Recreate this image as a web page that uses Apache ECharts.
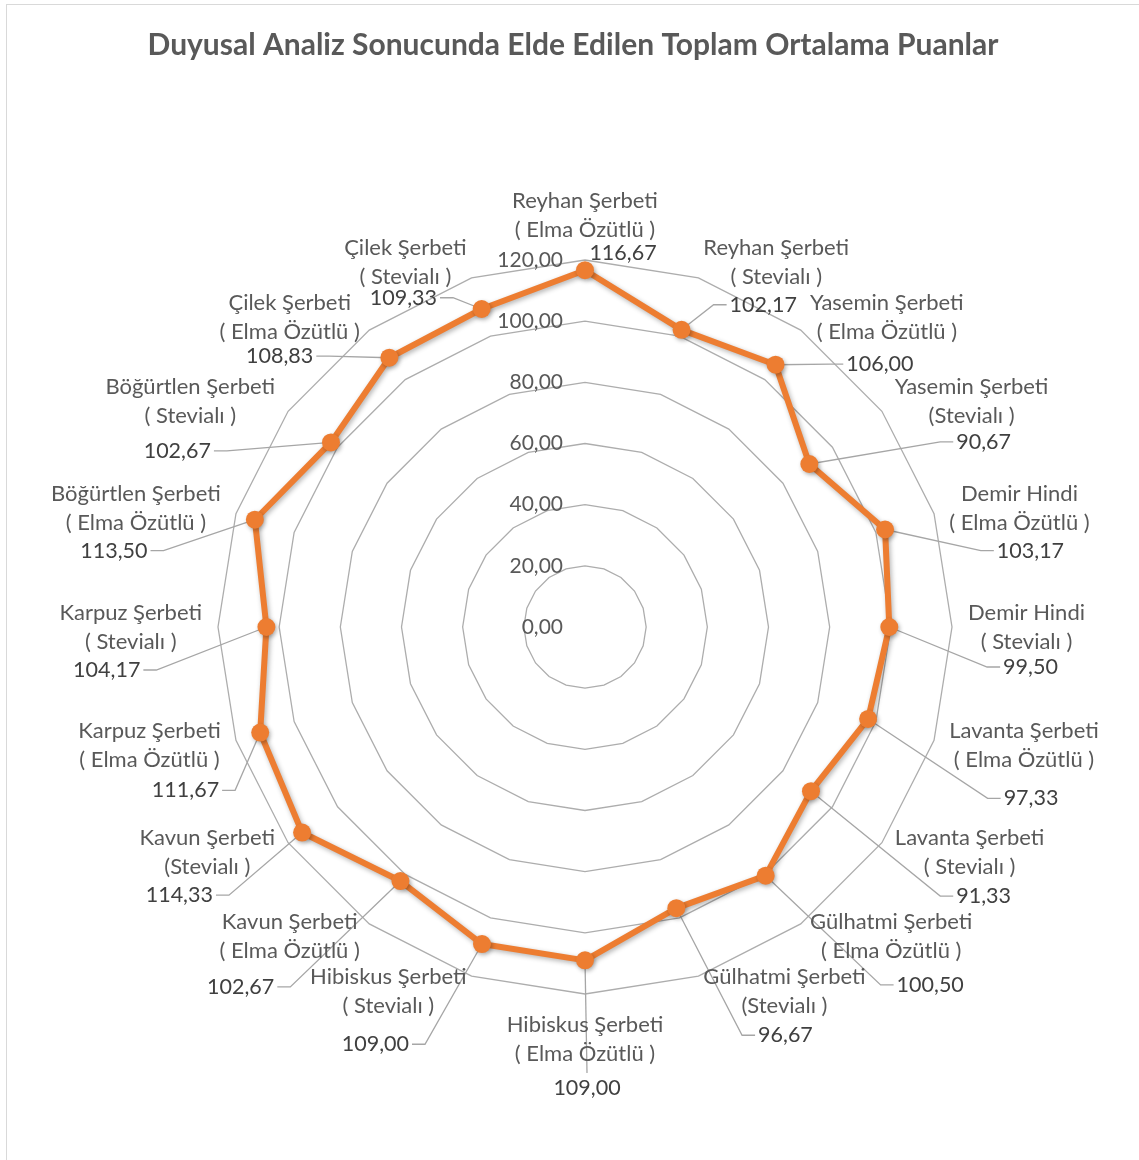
<!DOCTYPE html>
<html>
<head>
<meta charset="utf-8">
<script src="https://cdn.jsdelivr.net/npm/echarts@6/dist/echarts.min.js"></script>
<style>
html,body{margin:0;padding:0;background:#fff;overflow:hidden;width:1139px;height:1160px;}
#chart{position:absolute;left:0;top:0;width:1139px;height:1160px;}
#frame{position:absolute;left:6px;top:4px;width:1133px;height:1156px;border-left:1px solid #D9D9D9;border-top:1px solid #D9D9D9;box-sizing:border-box;pointer-events:none;}
</style>
</head>
<body>
<div id="chart"></div>
<div id="frame"></div>
<script>
// ---------- data ----------
const chartTitle = 'Duyusal Analiz Sonucunda Elde Edilen Toplam Ortalama Puanlar';
const categories = [
  'Reyhan Şerbeti\n( Elma Özütlü )',
  'Reyhan Şerbeti\n( Stevialı )',
  'Yasemin Şerbeti\n( Elma Özütlü )',
  'Yasemin Şerbeti\n(Stevialı )',
  'Demir Hindi\n( Elma Özütlü )',
  'Demir Hindi\n( Stevialı )',
  'Lavanta Şerbeti\n( Elma Özütlü )',
  'Lavanta Şerbeti\n( Stevialı )',
  'Gülhatmi Şerbeti\n( Elma Özütlü )',
  'Gülhatmi Şerbeti\n(Stevialı )',
  'Hibiskus Şerbeti\n( Elma Özütlü )',
  'Hibiskus Şerbeti\n( Stevialı )',
  'Kavun Şerbeti\n( Elma Özütlü )',
  'Kavun Şerbeti\n(Stevialı )',
  'Karpuz Şerbeti\n( Elma Özütlü )',
  'Karpuz Şerbeti\n( Stevialı )',
  'Böğürtlen Şerbeti\n( Elma Özütlü )',
  'Böğürtlen Şerbeti\n( Stevialı )',
  'Çilek Şerbeti\n( Elma Özütlü )',
  'Çilek Şerbeti\n( Stevialı )'
];
const values = [116.67, 102.17, 106.00, 90.67, 103.17, 99.50, 97.33, 91.33, 100.50, 96.67,
                109.00, 109.00, 102.67, 114.33, 111.67, 104.17, 113.50, 102.67, 108.83, 109.33];
const axisMin = 0;
const axisMax = 120;
const axisStep = 20;

// ---------- style / layout ----------
const CX = 585, CY = 627, R = 367;
const FONT_FAMILY = 'Lato, "Open Sans", sans-serif';
const NAME_SIZE = 22;
const VALUE_SIZE = 21.5;
const LINE_H = 29;
const NAME_GAP = 16;
const NAME_COLOR = '#595959';
const VALUE_COLOR = '#404040';
const GRID_COLOR = '#ADADAD';
const LEADER_COLOR = '#A6A6A6';
const SERIES_COLOR = '#ED7D31';
// nudges of value labels relative to their default spot under the category name
const valueLabelNudge = [[38,-4],[-13,0],[-7,5],[12,-2],[11,0],[4,-2],[7,11],[14,2],[39,6],[1,2],
                         [2,7],[-13,11],[-49,8],[-28,1],[36,3],[-24,1],[-22,0],[-13,7],[-10,-3],[-2,-7]];

const fmt = v => v.toFixed(2).replace('.', ',');
const mctx = document.createElement('canvas').getContext('2d');
function measure(text, font) { mctx.font = font; return mctx.measureText(text).width; }
const nameFont = NAME_SIZE + 'px ' + FONT_FAMILY;
const valueFont = VALUE_SIZE + 'px ' + FONT_FAMILY;

const N = categories.length;
// radar goes counter-clockwise, so feed it in reverse order (index 0 stays on top)
const radarOrder = [0].concat(Array.from({length: N - 1}, (_, k) => N - 1 - k));

function renderItem(params, api) {
  const v = api.value(0), i = api.value(1);
  const p = api.coord([v, i]);
  const o = api.coord([axisMax, i]);
  const c = api.coord([axisMin, i]);
  const rr = Math.hypot(o[0] - c[0], o[1] - c[1]);
  const ux = (o[0] - c[0]) / rr, uy = (o[1] - c[1]) / rr;
  const ax = o[0] + ux * NAME_GAP, ay = o[1] + uy * NAME_GAP;
  const lines = categories[i].split('\n');
  const w = Math.max.apply(null, lines.map(l => measure(l, nameFont)));
  const h = lines.length * LINE_H;
  let nx, ny;
  if (Math.abs(ux) < 0.05) { nx = ax; ny = ay + (uy < 0 ? -h / 2 : h / 2); }
  else { nx = ax + Math.sign(ux) * w / 2; ny = ay; }
  const nd = valueLabelNudge[i];
  const vx = nx + nd[0], vy = ny + h / 2 + 13 + nd[1];
  const vText = fmt(v);
  const lw = measure(vText, valueFont);
  const left = vx - lw / 2, right = vx + lw / 2;
  let pts;
  if (p[0] < left - 2) pts = [[p[0], p[1]], [left - 16, vy], [left - 3, vy]];
  else if (p[0] > right + 2) pts = [[p[0], p[1]], [right + 16, vy], [right + 3, vy]];
  else pts = [[p[0], p[1]], [vx, p[1] < vy ? vy - 15 : vy + 15]];
  const last = pts[pts.length - 1];
  const showLeader = Math.hypot(last[0] - p[0], last[1] - p[1]) > 30;
  const children = [
    { type: 'text', style: { text: categories[i], x: nx, y: ny, align: 'center', verticalAlign: 'middle',
        font: nameFont, fill: NAME_COLOR, lineHeight: LINE_H } },
    { type: 'text', style: { text: vText, x: vx, y: vy, align: 'center', verticalAlign: 'middle',
        font: valueFont, fill: VALUE_COLOR } }
  ];
  if (showLeader) children.unshift({ type: 'polyline', shape: { points: pts },
      style: { stroke: LEADER_COLOR, lineWidth: 1.3, fill: null } });
  return { type: 'group', children: children };
}

const chart = echarts.init(document.getElementById('chart'), null, { renderer: 'canvas' });
chart.setOption({
  animation: false,
  backgroundColor: '#fff',
  title: {
    text: chartTitle, left: 568, top: 25, textAlign: 'center',
    textStyle: { fontFamily: FONT_FAMILY, fontSize: 30, fontWeight: 'bold', color: '#595959' }
  },
  radar: {
    center: [CX, CY], radius: R, startAngle: 90, splitNumber: (axisMax - axisMin) / axisStep,
    shape: 'polygon',
    indicator: radarOrder.map(i => ({ name: '', min: axisMin, max: axisMax })),
    axisName: { show: false },
    axisLine: { show: false },
    axisTick: { show: false },
    axisLabel: { show: false },
    splitArea: { show: false },
    splitLine: { lineStyle: { color: GRID_COLOR, width: 1.3 } }
  },
  polar: { center: [CX, CY], radius: R },
  angleAxis: { type: 'value', min: 0, max: N, startAngle: 90, clockwise: true, show: false },
  radiusAxis: {
    type: 'value', min: axisMin, max: axisMax, interval: axisStep,
    axisLine: { show: false }, axisTick: { show: false }, splitLine: { show: false },
    axisLabel: { show: true, formatter: fmt, fontFamily: FONT_FAMILY, fontSize: 21, color: NAME_COLOR, margin: 22 }
  },
  series: [
    {
      type: 'custom', coordinateSystem: 'polar', z: 1, silent: true,
      encode: { radius: 0, angle: 1 },
      data: values.map((v, i) => [v, i]),
      renderItem: renderItem
    },
    {
      type: 'radar', z: 3, silent: true,
      symbol: 'circle', symbolSize: 18,
      lineStyle: { color: SERIES_COLOR, width: 6, shadowColor: 'rgba(0,0,0,0.3)', shadowBlur: 5, shadowOffsetX: 1.5, shadowOffsetY: 2 },
      itemStyle: { color: SERIES_COLOR, shadowColor: 'rgba(0,0,0,0.3)', shadowBlur: 4, shadowOffsetX: 1.5, shadowOffsetY: 2 },
      areaStyle: null,
      data: [{ value: radarOrder.map(i => values[i]) }]
    }
  ]
});
</script>
</body>
</html>
